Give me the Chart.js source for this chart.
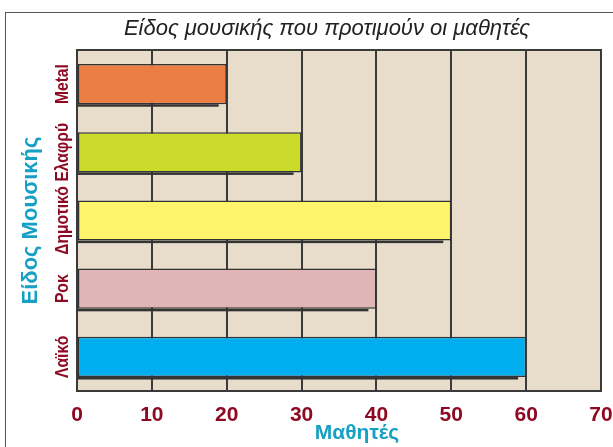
<!DOCTYPE html>
<html>
<head>
<meta charset="utf-8">
<script src="https://cdn.jsdelivr.net/npm/chart.js@4.4.1/dist/chart.umd.min.js"></script>
<style>
    body { margin: 0; background: #fff; }
    #wrap { position: relative; width: 613px; height: 447px; }
    #frame { position: absolute; left: 5px; top: 12px; width: 620px; height: 460px; border-left: 1px solid #555; border-top: 1px solid #555; }
    canvas { position: absolute; left: 0; top: 0; }
</style>
</head>
<body>
<div id="wrap">
    <div id="frame"></div>
    <canvas id="myChart" width="613" height="447"></canvas>
</div>
<script>
const genres = ['Metal', 'Ελαφρύ', 'Δημοτικό', 'Ροκ', 'Λαϊκό'];
const students = [20, 30, 50, 40, 60];
const barColors = ['#EA7E45', '#CADB2C', '#FFF46C', '#E0B5B5', '#00AEEF'];
const chartTitle = 'Είδος μουσικής που προτιμούν οι μαθητές';
const xTitle = 'Μαθητές';
const yTitle = 'Είδος Μουσικής';

const darkRed = '#8E0A22';
const teal = '#16A0C4';
const fontFam = '"Liberation Sans", Arial, sans-serif';

// fondo beige y marco del area del grafico
const plotBackground = {
    id: 'plotBackground',
    beforeDraw(chart) {
        const { ctx, chartArea: a } = chart;
        ctx.save();
        ctx.fillStyle = '#E8DCCB';
        ctx.fillRect(a.left, a.top, a.right - a.left, a.bottom - a.top);
        ctx.restore();
    },
    afterDraw(chart) {
        const { ctx, chartArea: a } = chart;
        ctx.save();
        ctx.strokeStyle = '#3a3a3a';
        ctx.lineWidth = 2;
        ctx.strokeRect(a.left, a.top, a.right - a.left, a.bottom - a.top);
        ctx.restore();
    }
};

// sombra oscura debajo de cada barra
const barShadow = {
    id: 'barShadow',
    afterDatasetsDraw(chart) {
        const ctx = chart.ctx;
        const meta = chart.getDatasetMeta(0);
        ctx.save();
        ctx.fillStyle = '#333';
        meta.data.forEach(bar => {
            const bottom = bar.y + bar.height / 2;
            ctx.fillRect(bar.base, bottom, bar.x - bar.base - 8, 2.5);
        });
        ctx.restore();
    }
};

// textos: titulo, etiquetas verticales y titulo del eje x
const chartTexts = {
    id: 'chartTexts',
    afterDraw(chart) {
        const ctx = chart.ctx;
        const yScale = chart.scales.y;
        ctx.save();
        ctx.fillStyle = '#222';
        ctx.font = 'italic 22px ' + fontFam;
        ctx.textAlign = 'center';
        ctx.textBaseline = 'middle';
        ctx.fillText(chartTitle, 327, 29);

        ctx.fillStyle = darkRed;
        ctx.font = 'bold 18px ' + fontFam;
        genres.forEach((g, i) => {
            ctx.save();
            ctx.translate(63, yScale.getPixelForTick(i));
            ctx.rotate(-Math.PI / 2);
            ctx.scale(0.87, 1); // letra un poco condensada
            ctx.fillText(g, 0, 0);
            ctx.restore();
        });

        ctx.fillStyle = teal;
        ctx.font = 'bold 21px ' + fontFam;
        ctx.fillText(xTitle, 357, 433);
        ctx.restore();
    }
};

const ctx = document.getElementById('myChart').getContext('2d');
new Chart(ctx, {
    type: 'bar',
    data: {
        labels: genres,
        datasets: [{
            data: students,
            backgroundColor: barColors,
            borderColor: '#333',
            borderWidth: 1.5,
            borderSkipped: false,
            categoryPercentage: 1,
            barPercentage: 0.59
        }]
    },
    plugins: [plotBackground, barShadow, chartTexts],
    options: {
        indexAxis: 'y',
        responsive: false,
        animation: false,
        layout: { padding: { top: 50, right: 12, left: 0, bottom: 0 } },
        plugins: {
            legend: { display: false },
            title: { display: false },
            tooltip: { enabled: false }
        },
        scales: {
            x: {
                min: 0,
                max: 70,
                border: { display: false },
                grid: { color: '#3a3a3a', lineWidth: 2, drawTicks: false },
                ticks: {
                    stepSize: 10,
                    padding: 12,
                    color: darkRed,
                    font: { family: fontFam, size: 21, weight: 'bold' }
                },
                afterFit: s => {
                    s.height = 56;
                    s.paddingRight = 0;
                    s.paddingLeft = 0;
                }
            },
            y: {
                border: { display: false },
                grid: { display: false },
                ticks: { display: false },
                title: {
                    display: true,
                    text: yTitle,
                    color: teal,
                    padding: { top: 18, bottom: 0 },
                    font: { family: fontFam, size: 22, weight: 'bold' }
                },
                afterFit: s => { s.width = 77; }
            }
        }
    }
});
</script>
</body>
</html>
